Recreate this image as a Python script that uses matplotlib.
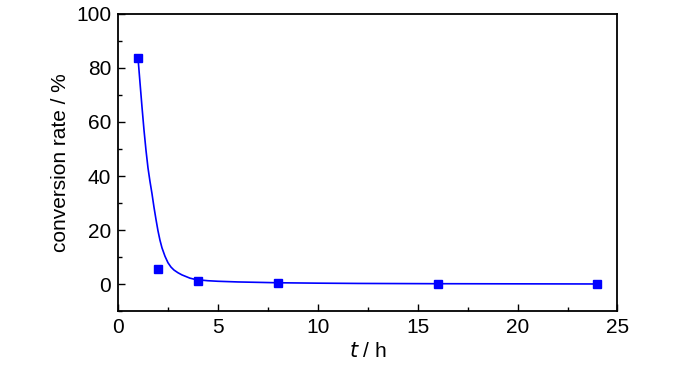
import matplotlib
matplotlib.use("Agg")
import matplotlib.pyplot as plt
from matplotlib.ticker import MultipleLocator

plt.rcParams['font.family'] = ['Liberation Sans', 'DejaVu Sans']

# measured points
t_data = [1, 2, 4, 8, 16, 24]
conv_data = [83.6, 5.8, 1.2, 0.6, 0.3, 0.3]

# fitted curve
t_fit = [1.0, 1.1, 1.2, 1.3, 1.4, 1.5, 1.6, 1.7, 1.8, 1.9, 2.0, 2.1, 2.2, 2.35, 2.5,
         2.65, 2.8, 3.0, 3.2, 3.4, 3.6, 3.8, 4.0, 4.5, 5.0, 6.0, 7.0, 8.0, 10.0,
         12.0, 14.0, 16.0, 20.0, 24.0]
conv_fit = [83.6, 74.5, 65.5, 57.0, 49.5, 43.0, 38.0, 33.5, 28.5, 24.0, 19.8, 16.3,
            13.5, 10.4, 8.0, 6.4, 5.3, 4.3, 3.5, 2.9, 2.3, 1.95, 1.7, 1.35, 1.15,
            0.9, 0.75, 0.6, 0.45, 0.35, 0.3, 0.25, 0.2, 0.15]

fig = plt.figure(figsize=(7, 3.66), dpi=100)
ax = fig.add_axes([0.1686, 0.149, 0.7135, 0.814])

ax.plot(t_fit, conv_fit, color='#0000ff', linewidth=1.2)
ax.plot(t_data, conv_data, linestyle='None', marker='s', markersize=6,
        color='#0000ff')

ax.set_xlim(0, 25)
ax.set_ylim(-10, 100)
ax.xaxis.set_major_locator(MultipleLocator(5))
ax.xaxis.set_minor_locator(MultipleLocator(2.5))
ax.yaxis.set_major_locator(MultipleLocator(20))
ax.yaxis.set_minor_locator(MultipleLocator(10))
ax.tick_params(which='both', direction='in', labelsize=15, width=1.0)
ax.tick_params(which='major', length=5, pad=5)
ax.tick_params(which='minor', length=3)
for s in ax.spines.values():
    s.set_linewidth(1.3)

ax.set_xlabel(r'$t$ / h', fontsize=15, labelpad=3)
ax.set_ylabel('conversion rate / %', fontsize=15, labelpad=4)

fig.savefig('out.png', dpi=100)
